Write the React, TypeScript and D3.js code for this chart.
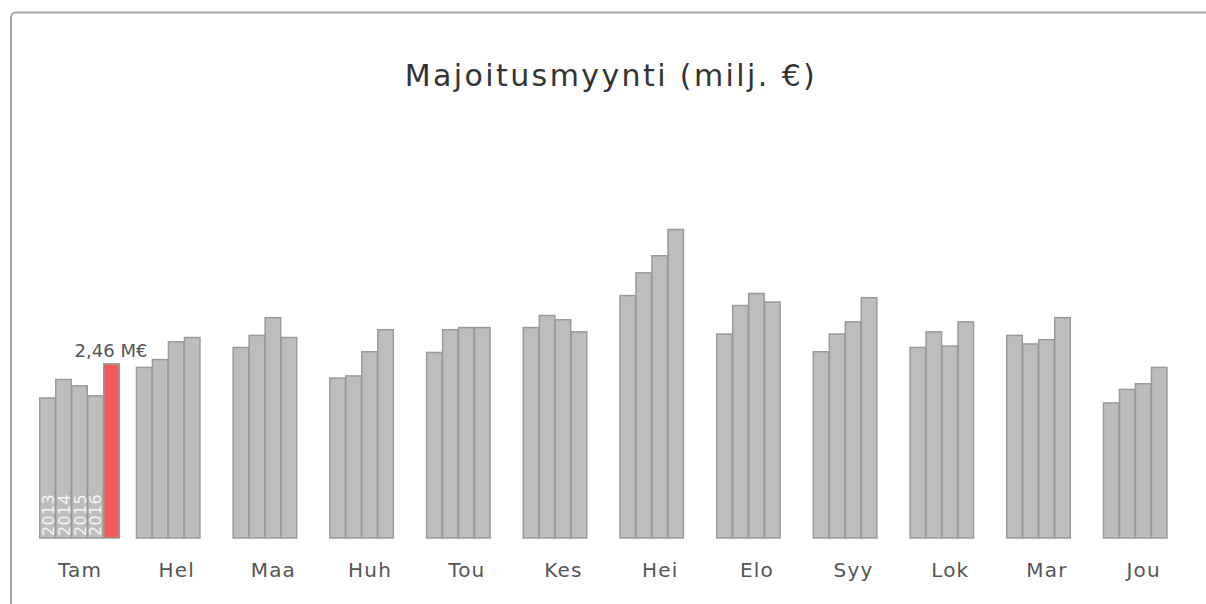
import React from 'react';
import * as d3 from 'd3';

const months = ['Tam', 'Hel', 'Maa', 'Huh', 'Tou', 'Kes', 'Hei', 'Elo', 'Syy', 'Lok', 'Mar', 'Jou'];
const years = ['2013', '2014', '2015', '2016', '2017'];

const sales2013 = [1.98, 2.41, 2.69, 2.26, 2.62, 2.97, 3.42, 2.88, 2.63, 2.69, 2.86, 1.91];
const sales2014 = [2.24, 2.52, 2.86, 2.29, 2.94, 3.14, 3.74, 3.28, 2.88, 2.91, 2.74, 2.10];
const sales2015 = [2.15, 2.77, 3.11, 2.63, 2.97, 3.08, 3.98, 3.45, 3.05, 2.71, 2.80, 2.18];
const sales2016 = [2.01, 2.83, 2.83, 2.94, 2.97, 2.91, 4.35, 3.33, 3.39, 3.05, 3.11, 2.41];
const sales2017 = [2.46];

const seriesByYear = [sales2013, sales2014, sales2015, sales2016, sales2017];

const W = 1206;
const H = 604;
const baseline = 538;

const App: React.FC = () => {
  const x0 = d3.scaleBand<string>()
    .domain(months)
    .range([30.65, 1191.05])
    .paddingInner(0.173)
    .paddingOuter(0.0865);

  const x1 = d3.scaleBand<string>()
    .domain(years)
    .range([0, x0.bandwidth()]);

  const y = d3.scaleLinear()
    .domain([0, 5])
    .range([baseline, baseline - 355.5]);

  const bars: { month: string; year: string; value: number }[] = [];
  seriesByYear.forEach((vals, yi) => {
    vals.forEach((v, mi) => bars.push({ month: months[mi], year: years[yi], value: v }));
  });

  const latest = bars.find(b => b.year === '2017')!;
  const fmt = (v: number) => v.toFixed(2).replace('.', ',') + ' M€';

  return (
    <svg width={W} height={H} style={{ position: 'absolute', left: 0, top: 0, display: 'block', background: '#fff' }}
      fontFamily="'DejaVu Sans', Verdana, sans-serif">
      <rect x={11} y={12.5} width={1220} height={640} rx={5} fill="#fff" stroke="#a3a3a3" strokeWidth={2} />

      <text x={611} y={86} textAnchor="middle" fontSize={30} letterSpacing={2.4} fill="#333">
        Majoitusmyynti (milj. €)
      </text>

      {bars.map(b => (
        <rect
          key={b.month + b.year}
          x={(x0(b.month) || 0) + (x1(b.year) || 0) + 0.75}
          y={y(b.value) + 0.75}
          width={x1.bandwidth() - 0.5}
          height={baseline - y(b.value) - 0.75}
          fill={b.year === '2017' ? '#f25b5b' : '#bdbdbd'}
          stroke="#9a9a9a"
          strokeWidth={1.5}
        />
      ))}

      {/* year labels inside the first group */}
      {years.slice(0, 4).map(yr => {
        const cx = (x0(months[0]) || 0) + (x1(yr) || 0) + x1.bandwidth() / 2 + 1;
        return (
          <text key={yr} transform={`translate(${cx + 5.5},${baseline - 2}) rotate(-90)`}
            fontSize={16} letterSpacing={0.3} fill="#fff" fillOpacity={0.85}>
            {yr}
          </text>
        );
      })}

      <text
        x={(x0(latest.month) || 0) + (x1(latest.year) || 0) + x1.bandwidth() / 2}
        y={y(latest.value) - 6}
        textAnchor="middle" fontSize={18} fill="#555">
        {fmt(latest.value)}
      </text>

      {months.map(m => (
        <text key={m} x={(x0(m) || 0) + x0.bandwidth() / 2 + 1} y={577} textAnchor="middle"
          fontSize={20} letterSpacing={1.2} fill="#555">
          {m}
        </text>
      ))}
    </svg>
  );
};

export default App;
